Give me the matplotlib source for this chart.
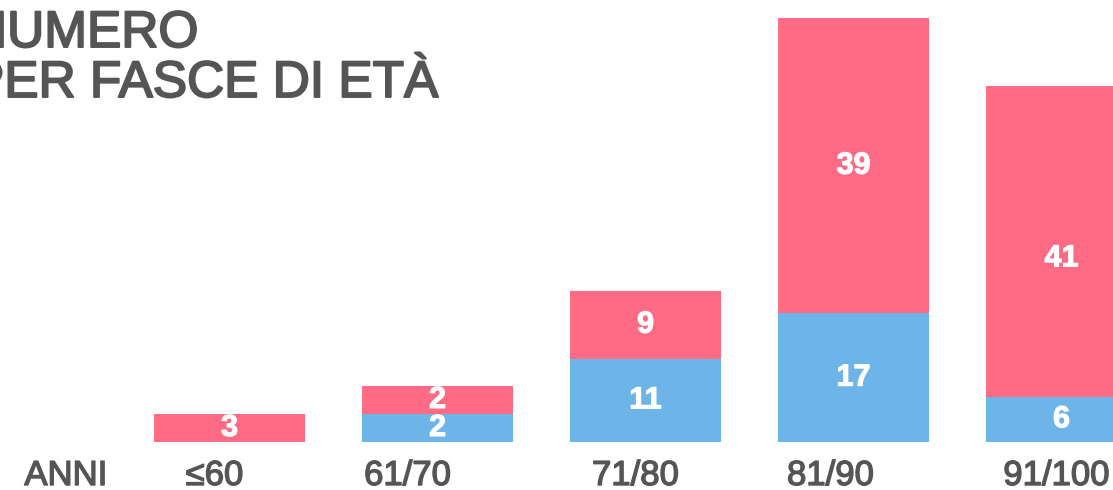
import matplotlib
matplotlib.use("Agg")
import matplotlib.pyplot as plt
import matplotlib.patheffects as pe

plt.rcParams['font.family'] = ['Liberation Sans', 'DejaVu Sans']

# data
fasce = ["≤60", "61/70", "71/80", "81/90", "91/100"]
blu = [0, 2, 11, 17, 6]
rosa = [3, 2, 9, 39, 41]

ROSA = "#ff6b85"
BLU = "#6db4e8"
GRIGIO = "#555555"

W, H = 1113, 490
PX = 7.57  # pixels per unit
fig = plt.figure(figsize=(W / 100, H / 100), dpi=100)

# axes: bar i centered at pixel 229.5 + 208*i, baseline at 442 px from top
ax = fig.add_axes([0, 48 / H, 1, 442 / H])
ax.set_xlim(-229.5 / 208, (W - 229.5) / 208)
ax.set_ylim(0, 442 / PX)
ax.axis("off")

# the original keeps very short segments tall enough for their label
minh = 3.7
def alto(v):
    return max(v, minh) if v > 0 else 0

hb = [alto(v) for v in blu]
hr = [alto(v) for v in rosa]

x = list(range(len(fasce)))
wbar = 151 / 208
ax.bar(x, hb, width=wbar, color=BLU, linewidth=0)
ax.bar(x, hr, width=wbar, bottom=hb, color=ROSA, linewidth=0)

num_fx = [pe.withStroke(linewidth=0.8, foreground="white")]
lift = [0, 0, 0, 0, -17]  # px, the 41 label sits a bit lower in the original
for i in x:
    if blu[i] > 0:
        ax.text(i, hb[i] / 2, str(blu[i]), ha="center", va="center",
                color="white", fontsize=22, fontweight="bold", path_effects=num_fx)
    ax.text(i, hb[i] + hr[i] / 2 + lift[i] / PX, str(rosa[i]), ha="center",
            va="center", color="white", fontsize=22, fontweight="bold",
            path_effects=num_fx)

txt_fx = [pe.withStroke(linewidth=1.0, foreground=GRIGIO)]

# category labels (slightly left of the bar centers, as in the original)
shift = [-15, -30, -10, -23, -5]
for i in x:
    px = 229.5 + 208 * i + shift[i]
    fig.text(px / W, 5 / H, fasce[i], ha="center", va="baseline",
             color=GRIGIO, fontsize=25, path_effects=txt_fx)
fig.text(66 / W, 5 / H, "ANNI", ha="center", va="baseline",
         color=GRIGIO, fontsize=25, path_effects=txt_fx)

# title, cut at the left edge
tit_fx = [pe.withStroke(linewidth=1.4, foreground=GRIGIO)]
fig.text(-30 / W, (H - 47) / H, "NUMERO", ha="left", va="baseline",
         color=GRIGIO, fontsize=37, path_effects=tit_fx)
fig.text(-30 / W, (H - 97) / H, "PER FASCE DI ETÀ", ha="left", va="baseline",
         color=GRIGIO, fontsize=37, path_effects=tit_fx)

fig.savefig("out.png", dpi=100)
